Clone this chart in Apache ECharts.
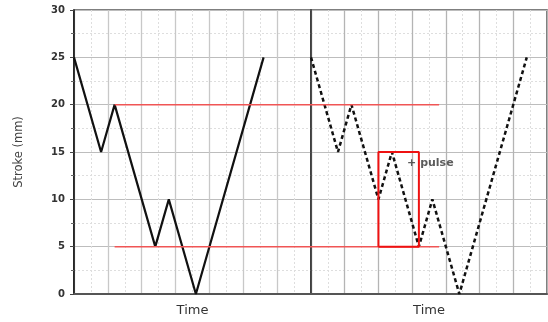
<!DOCTYPE html>
<html><head><meta charset="utf-8">
<script src="https://cdn.jsdelivr.net/npm/echarts@6/dist/echarts.min.js"></script>
<style>html,body{margin:0;padding:0;background:#fff}#c{width:548px;height:322px}</style>
</head><body><div id="c"></div>
<script>
// Left panel (solid) stroke profile: [time, stroke]
var leftTime = [0, 0.8, 1.2, 2.4, 2.8, 3.6, 5.6];
var leftStroke = [25, 15, 20, 5, 10, 0, 25];
// Right panel (dashed, with pulse)
var rightTime = [0, 0.8, 1.2, 2.0, 2.4, 3.2, 3.6, 4.4, 6.4];
var rightStroke = [25, 15, 20, 10, 15, 5, 10, 0, 25];
// Red reference levels
var redLevels = [20, 5];
var redLeftStart = 1.2;   // in left panel
var redRightEnd = 3.8;    // in right panel
// Pulse box (right panel)
var pulseX = [2.0, 3.2];
var pulseY = [5, 15];
var pulseLabelPos = [2.85, 13.8];
var pulseLabel = '+ pulse';
var yTicks = [0, 5, 10, 15, 20, 25, 30];
var panelWidth = 7;

function zip(a, b) { return a.map(function (v, i) { return [v, b[i]]; }); }

var font = 'DejaVu Sans';
function xAxis(idx) {
  return {
    type: 'value', gridIndex: idx, min: 0, max: panelWidth, interval: 1,
    name: 'Time', nameLocation: 'middle', nameGap: 10,
    nameTextStyle: { fontFamily: font, fontSize: 13, color: '#333' },
    axisLine: { show: true, lineStyle: { color: '#555', width: 1.8 } },
    axisTick: { show: false }, axisLabel: { show: false },
    splitLine: { show: true, lineStyle: { color: idx ? '#b4b4b4' : '#c8c8c8', width: 1.3 } },
    minorTick: { show: false, splitNumber: 2 },
    minorSplitLine: { show: true, lineStyle: { color: '#dedede', type: [2, 2], width: 1 } }
  };
}
function yAxis(idx, labels) {
  return {
    type: 'value', gridIndex: idx, min: yTicks[0], max: yTicks[yTicks.length - 1], interval: 5,
    name: labels ? 'Stroke (mm)' : '', nameLocation: 'middle', nameGap: 49,
    nameTextStyle: { fontFamily: font, fontSize: 11.5, color: '#444' },
    axisLine: { show: true, lineStyle: { color: labels ? '#111' : '#333', width: 1.6 } },
    axisTick: { show: labels, length: 4, lineStyle: { color: '#444' } },
    minorTick: { show: labels, splitNumber: 2, length: 3, lineStyle: { color: '#666' } },
    axisLabel: { show: labels, fontFamily: font, fontSize: 10, color: '#333', fontWeight: 'bold', margin: 9 },
    splitLine: { show: true, lineStyle: { color: '#bdbdbd', width: 1.2 } },
    minorSplitLine: { show: true, lineStyle: { color: '#dedede', type: [2, 2], width: 1 } }
  };
}

var series = [
  { type: 'line', xAxisIndex: 0, yAxisIndex: 0, data: zip(leftTime, leftStroke), symbol: 'none',
    lineStyle: { color: '#111', width: 2.2 }, z: 3, silent: true }
];
redLevels.forEach(function (lv) {
  series.push({ type: 'line', xAxisIndex: 0, yAxisIndex: 0, data: [[redLeftStart, lv], [panelWidth, lv]],
    symbol: 'none', lineStyle: { color: '#f05555', width: 1.5 }, z: 4, silent: true });
  series.push({ type: 'line', xAxisIndex: 1, yAxisIndex: 1, data: [[0, lv], [redRightEnd, lv]],
    symbol: 'none', lineStyle: { color: '#f05555', width: 1.5 }, z: 4, silent: true });
});
series.push({ type: 'line', xAxisIndex: 1, yAxisIndex: 1, data: zip(rightTime, rightStroke), symbol: 'none',
  lineStyle: { color: '#111', width: 2.5, type: [4, 3] }, z: 3, silent: true });
series.push({ type: 'line', xAxisIndex: 1, yAxisIndex: 1,
  data: [[pulseX[0], pulseY[0]], [pulseX[0], pulseY[1]], [pulseX[1], pulseY[1]], [pulseX[1], pulseY[0]], [pulseX[0], pulseY[0]]],
  symbol: 'none', lineStyle: { color: '#ee1111', width: 2 }, z: 5, silent: true });
series.push({ type: 'scatter', xAxisIndex: 1, yAxisIndex: 1, data: [pulseLabelPos], symbolSize: 0, z: 6, silent: true,
  label: { show: true, position: 'right', distance: 0, formatter: pulseLabel,
    fontFamily: font, fontSize: 11, fontWeight: 'bold', color: '#333' } });

var chart = echarts.init(document.getElementById('c'), null, { renderer: 'canvas' });
chart.setOption({
  animation: false,
  backgroundColor: '#fff',
  grid: [
    { left: 74, top: 10, width: 237, height: 285, show: true, borderColor: '#555', borderWidth: 1.6, backgroundColor: 'transparent' },
    { left: 311, top: 10, width: 236, height: 285, show: true, borderColor: '#555', borderWidth: 1.6, backgroundColor: 'transparent' }
  ],
  xAxis: [xAxis(0), xAxis(1)],
  yAxis: [yAxis(0, true), yAxis(1, false)],
  series: series
});
</script></body></html>
